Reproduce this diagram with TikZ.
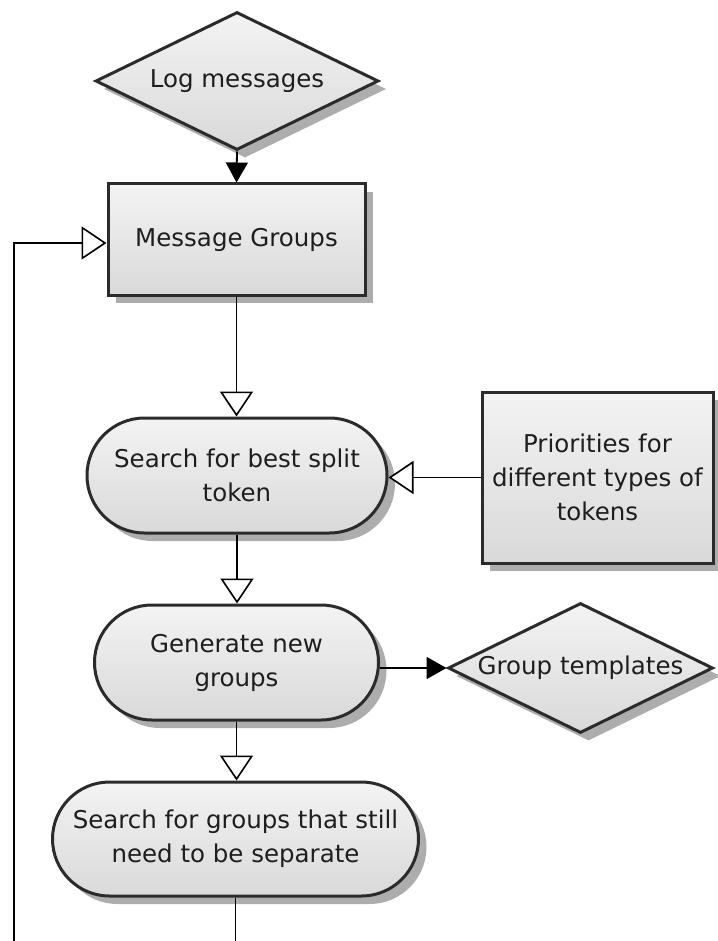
\documentclass[tikz,border=0pt]{standalone}
\usepackage{fontspec}
\setmainfont{DejaVu Sans}
\usetikzlibrary{shapes.geometric,shapes.misc,arrows.meta,shadows}
\definecolor{edgec}{HTML}{2B2B2B}
\definecolor{topc}{HTML}{F3F3F3}
\definecolor{botc}{HTML}{D9D9D9}
\definecolor{shadc}{HTML}{ADADAD}
\definecolor{txtc}{HTML}{1E1E1E}
\tikzset{
  base/.style={draw=edgec, line width=3pt, top color=topc, bottom color=botc,
    text=txtc, align=center, inner sep=0pt,
    font=\fontsize{24.5}{34}\selectfont,
    drop shadow={shadow xshift=8pt, shadow yshift=-8pt, opacity=1, fill=shadc}},
  boxnode/.style={base, rectangle},
  pillnode/.style={base, rounded rectangle},
  dianode/.style={base, diamond, aspect=2.1},
  conn/.style={line width=1.8pt, draw=black},
  openarr/.style={conn, -{Triangle[width=33pt,length=25pt,fill=white,line width=1.6pt]}},
  fillarr/.style={conn, -{Triangle[width=22pt,length=20pt]}}
}
\begin{document}
\begin{tikzpicture}[x=1pt,y=-1pt]
\useasboundingbox[fill=white] (0,0) rectangle (717,941);
\node[dianode, minimum width=283pt, minimum height=138pt] (log) at (237,81) {Log messages};
\node[boxnode, minimum width=257pt, minimum height=111pt] (mg) at (236.5,239.5) {Message Groups};
\node[pillnode, minimum width=300pt, minimum height=115pt] (sbt) at (237,475.5) {Search for best split\\token};
\node[boxnode, minimum width=231pt, minimum height=171pt] (prio) at (597.5,477.5) {Priorities for\\different types of\\tokens};
\node[pillnode, minimum width=284pt, minimum height=115pt] (gen) at (236.5,662.5) {Generate new\\groups};
\node[dianode, minimum width=265pt, minimum height=130pt] (gt) at (580.5,668) {Group templates};
\node[pillnode, minimum width=366pt, minimum height=114pt] (sgs) at (235.5,839) {Search for groups that still\\need to be separate};
\coordinate (bot) at (235.5,941);
\coordinate (loopbot) at (14,941);
\coordinate (loopcorner) at (14,243);

\draw[fillarr] (log.south) -- (mg.north);
\draw[openarr] (mg.south) -- (mg.south |- sbt.north);
\draw[openarr] (prio.west) -- (prio.west -| sbt.east);
\draw[openarr] (sbt.south) -- (sbt.south |- gen.north);
\draw[fillarr] (gen.east |- gt.west) -- (gt.west);
\draw[openarr] (gen.south) -- (gen.south |- sgs.north);
\draw[conn] (sgs.south) -- (bot);
\draw[openarr] (loopbot) -- (loopcorner) -- (loopcorner -| mg.west);
\end{tikzpicture}
\end{document}
